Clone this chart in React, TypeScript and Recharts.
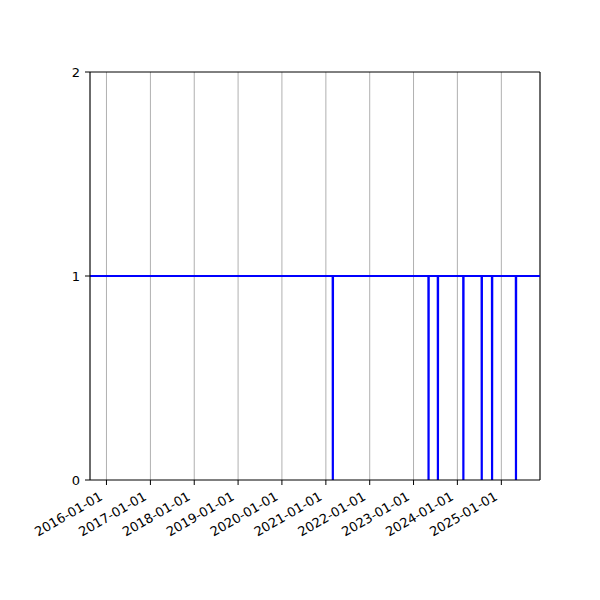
import React from 'react';
import {
  LineChart,
  Line,
  XAxis,
  YAxis,
  CartesianGrid,
  ReferenceLine,
} from 'recharts';

// Status series: stays at 1, drops to 0 on a few single days
const dates = [
  '2015-08-17',
  '2021-02-27', '2021-02-28', '2021-03-01',
  '2023-05-05', '2023-05-06', '2023-05-07',
  '2023-07-22', '2023-07-23', '2023-07-24',
  '2024-02-19', '2024-02-20', '2024-02-21',
  '2024-07-21', '2024-07-22', '2024-07-23',
  '2024-10-15', '2024-10-16', '2024-10-17',
  '2025-05-02', '2025-05-03', '2025-05-04',
  '2025-11-19',
];
const values = [
  1,
  1, 0, 1,
  1, 0, 1,
  1, 0, 1,
  1, 0, 1,
  1, 0, 1,
  1, 0, 1,
  1, 0, 1,
  1,
];

const xTickLabels = [
  '2016-01-01', '2017-01-01', '2018-01-01', '2019-01-01', '2020-01-01',
  '2021-01-01', '2022-01-01', '2023-01-01', '2024-01-01', '2025-01-01',
];
const yTicks = [0, 1, 2];
const xRange = ['2015-08-17', '2025-11-19'];

const toTs = (s: string) => Date.parse(s + 'T00:00:00Z');
const fmt = (v: number) => new Date(v).toISOString().slice(0, 10);

const chartData = dates.map((d, i) => ({ t: toTs(d), value: values[i] }));
const xTicks = xTickLabels.map(toTs);
const xDomain = xRange.map(toTs);

const FONT = 'DejaVu Sans, sans-serif';
const FONT_SIZE = 13;

const DateTick = ({ x, y, payload }: any) => (
  <text
    x={x - 3}
    y={y + 12}
    transform={`rotate(-30, ${x - 3}, ${y + 12})`}
    textAnchor="end"
    fontSize={FONT_SIZE}
    fontFamily={FONT}
    fill="#000"
  >
    {fmt(payload.value)}
  </text>
);

export default function App() {
  return (
    <div style={{ position: 'absolute', left: 0, top: 0, background: '#fff' }}>
      <LineChart
        width={600}
        height={600}
        data={chartData}
        margin={{ top: 72, right: 60, bottom: 60, left: 40 }}
      >
        <CartesianGrid horizontal={false} stroke="#b0b0b0" strokeWidth={1} />
        <XAxis
          dataKey="t"
          type="number"
          scale="time"
          domain={xDomain}
          ticks={xTicks}
          interval={0}
          allowDataOverflow
          height={60}
          tick={<DateTick />}
          tickSize={5}
          tickLine={{ stroke: '#000' }}
          axisLine={{ stroke: '#000' }}
        />
        <YAxis
          type="number"
          domain={[0, 2]}
          ticks={yTicks}
          width={50}
          tickSize={5}
          tickMargin={5}
          tick={{ fill: '#000', fontSize: FONT_SIZE, fontFamily: FONT }}
          tickLine={{ stroke: '#000' }}
          axisLine={{ stroke: '#000' }}
        />
        <ReferenceLine y={2} stroke="#000" ifOverflow="extendDomain" />
        <ReferenceLine x={xDomain[1]} stroke="#000" />
        <Line
          type="linear"
          dataKey="value"
          stroke="#0000ff"
          strokeWidth={2.2}
          dot={false}
          activeDot={false}
          isAnimationActive={false}
        />
      </LineChart>
    </div>
  );
}
